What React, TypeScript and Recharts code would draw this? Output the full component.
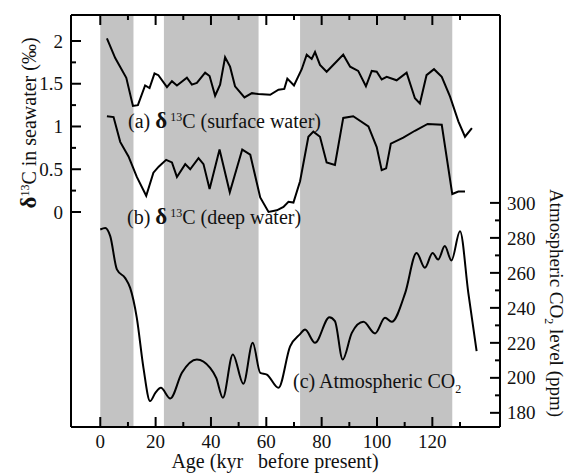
import React from 'react';
import { ComposedChart, Line, XAxis, YAxis, ReferenceArea } from 'recharts';

// (a) surface water δ13C
const surfaceAge = [2.4, 5.4, 9.4, 11.8, 13.6, 16.2, 17.8, 19.6, 21, 24.1, 25.9, 27.7, 31.3, 33.1, 34.9, 37.9, 39.5, 41.5, 43.3, 45.1, 46.9, 48.7, 52.1, 54.8, 57.1, 61.4, 64.4, 66.5, 67.6, 70, 72.8, 74.6, 76.4, 77.6, 79.4, 81.8, 85.4, 87.8, 90.3, 93.2, 96, 98.1, 99.9, 101.7, 103.5, 107.1, 110.7, 113.7, 115.5, 117.9, 120.6, 123.4, 126.4, 129.4, 131.8, 134.3];
const surfaceD13C = [2.03, 1.80, 1.57, 1.24, 1.25, 1.48, 1.45, 1.62, 1.60, 1.46, 1.53, 1.48, 1.57, 1.49, 1.51, 1.63, 1.59, 1.36, 1.49, 1.81, 1.70, 1.47, 1.34, 1.39, 1.38, 1.37, 1.43, 1.44, 1.56, 1.48, 1.67, 1.84, 1.79, 1.87, 1.72, 1.64, 1.76, 1.84, 1.70, 1.65, 1.47, 1.65, 1.64, 1.55, 1.58, 1.54, 1.63, 1.33, 1.27, 1.60, 1.67, 1.58, 1.35, 1.06, 0.88, 0.98];

// (b) deep water δ13C
const deepAge = [2.4, 4.8, 7.2, 10.2, 13.2, 16.6, 19.2, 21.1, 23.8, 25.9, 27.7, 30.7, 32.5, 35.5, 37.3, 39.5, 43.1, 46.8, 51.3, 54.2, 57.8, 60.8, 63.8, 66.2, 68, 69.8, 72.2, 75.2, 77, 79.4, 81.8, 84.8, 87.8, 91.4, 96.9, 99.9, 101.7, 103.3, 105, 109.5, 113.7, 118.3, 123.4, 127.2, 129.4, 131.8];
const deepD13C = [1.12, 1.11, 0.82, 0.65, 0.41, 0.19, 0.46, 0.53, 0.61, 0.58, 0.41, 0.56, 0.50, 0.63, 0.56, 0.27, 0.73, 0.23, 0.73, 0.67, 0.17, 0.00, 0.02, 0.06, 0.12, 0.11, 0.36, 0.88, 0.94, 0.88, 0.58, 0.55, 1.10, 1.12, 1.00, 0.76, 0.49, 0.51, 0.80, 0.87, 0.95, 1.03, 1.02, 0.21, 0.24, 0.24];

// (c) atmospheric CO2
const co2Age = [0, 1.8, 3.6, 6, 9, 10.8, 13.2, 15.6, 18, 19.9, 21.9, 25.3, 29.5, 34.9, 39.7, 41.9, 44.3, 47.9, 51.7, 55.1, 57.8, 60.2, 64.4, 68.6, 72.2, 74, 77.6, 82.8, 84.8, 87.6, 90.9, 95.1, 99.3, 102.9, 105.3, 110.2, 114.3, 117.3, 120.1, 122.1, 124.5, 126.9, 130, 133, 136];
const co2Ppm = [284.8, 285.7, 281, 262, 257, 251.4, 234.3, 205.7, 186.7, 191.4, 194.3, 188.2, 202.9, 210.5, 205.7, 200, 188.6, 213.4, 196.6, 220, 202.9, 201.9, 194.3, 218, 225, 227.6, 220, 234.7, 232.4, 210.5, 225.7, 232, 225.4, 234.3, 232, 248.6, 271.4, 262.9, 271.4, 267.6, 275.3, 267.1, 283.8, 248.6, 215.3];

// Shaded intervals (kyr)
const bandStart = [0, 23, 72.2];
const bandEnd = [12, 57.2, 127.2];

const xTicks = [0, 10, 20, 30, 40, 50, 60, 70, 80, 90, 100, 110, 120, 130];
const leftTicks = [0, 0.25, 0.5, 0.75, 1, 1.25, 1.5, 1.75, 2];
const rightTicks = [180, 190, 200, 210, 220, 230, 240, 250, 260, 270, 280, 290, 300];

const surfaceData = surfaceAge.map((x, i) => ({ x, d13c: surfaceD13C[i] }));
const deepData = deepAge.map((x, i) => ({ x, d13c: deepD13C[i] }));
const co2Data = co2Age.map((x, i) => ({ x, ppm: co2Ppm[i] }));

const W = 568;
const H = 476;
const FONT = '"Liberation Serif", "Times New Roman", serif';
const TICK_FS = 19;

const isMajorX = (v: number) => v % 20 === 0;
const isMajorLeft = (v: number) => Math.abs(v * 2 - Math.round(v * 2)) < 1e-6;
const isMajorRight = (v: number) => v % 20 === 0;

const BottomTick = (props: any) => {
  const { x, y, payload } = props;
  const major = isMajorX(payload.value);
  return (
    <g>
      <line x1={x} y1={y} x2={x} y2={y - (major ? 10 : 5)} stroke="#000" strokeWidth={2} />
      {major && (
        <text x={x} y={y + 21} textAnchor="middle" fontSize={TICK_FS} fontFamily={FONT} fill="#111">
          {payload.value}
        </text>
      )}
    </g>
  );
};

const TopTick = (props: any) => {
  const { x, y, payload } = props;
  const major = isMajorX(payload.value);
  return <line x1={x} y1={y} x2={x} y2={y + (major ? 10 : 5)} stroke="#000" strokeWidth={2} />;
};

const LeftTick = (props: any) => {
  const { x, y, payload } = props;
  const major = isMajorLeft(payload.value);
  return (
    <g>
      <line x1={x} y1={y} x2={x + (major ? 10 : 5)} y2={y} stroke="#000" strokeWidth={2} />
      {major && (
        <text x={x - 8} y={y} dy="0.35em" textAnchor="end" fontSize={TICK_FS} fontFamily={FONT} fill="#111">
          {String(payload.value)}
        </text>
      )}
    </g>
  );
};

const RightTick = (props: any) => {
  const { x, y, payload } = props;
  const major = isMajorRight(payload.value);
  return (
    <g>
      <line x1={x} y1={y} x2={x - (major ? 10 : 5)} y2={y} stroke="#000" strokeWidth={2} />
      {major && (
        <text x={x + 7} y={y} dy="0.35em" textAnchor="start" fontSize={TICK_FS} fontFamily={FONT} fill="#111">
          {payload.value}
        </text>
      )}
    </g>
  );
};

export default function App() {
  return (
    <div style={{ position: 'absolute', left: 0, top: 0, width: W, height: H, background: '#fff' }}>
      <ComposedChart
        width={W}
        height={H}
        margin={{ top: 14, right: 67, bottom: 48, left: 70 }}
      >
        <XAxis
          xAxisId="bottom"
          dataKey="x"
          type="number"
          orientation="bottom"
          domain={[-10.58, 144.45]}
          allowDataOverflow
          ticks={xTicks}
          interval={0}
          height={1}
          tickSize={0}
          tickMargin={0}
          tickLine={false}
          tick={<BottomTick />}
          axisLine={{ stroke: '#000', strokeWidth: 2 }}
        />
        <XAxis
          xAxisId="top"
          dataKey="x"
          type="number"
          orientation="top"
          domain={[-10.58, 144.45]}
          allowDataOverflow
          ticks={xTicks}
          interval={0}
          height={1}
          tickSize={0}
          tickMargin={0}
          tickLine={false}
          tick={<TopTick />}
          axisLine={{ stroke: '#000', strokeWidth: 2 }}
        />
        <YAxis
          yAxisId="d13c"
          orientation="left"
          type="number"
          domain={[-2.515, 2.304]}
          allowDataOverflow
          ticks={leftTicks}
          interval={0}
          width={1}
          tickSize={0}
          tickMargin={0}
          tickLine={false}
          tick={<LeftTick />}
          axisLine={{ stroke: '#000', strokeWidth: 2 }}
        />
        <YAxis
          yAxisId="co2"
          orientation="right"
          type="number"
          domain={[171.9, 407.4]}
          allowDataOverflow
          ticks={rightTicks}
          interval={0}
          width={1}
          tickSize={0}
          tickMargin={0}
          tickLine={false}
          tick={<RightTick />}
          axisLine={{ stroke: '#000', strokeWidth: 2 }}
        />
        {bandStart.map((s, i) => (
          <ReferenceArea
            key={i}
            xAxisId="bottom"
            yAxisId="d13c"
            x1={s}
            x2={bandEnd[i]}
            fill="#c3c3c3"
            fillOpacity={1}
            stroke="none"
            ifOverflow="hidden"
          />
        ))}
        <Line
          xAxisId="bottom"
          yAxisId="d13c"
          data={surfaceData}
          dataKey="d13c"
          type="linear"
          stroke="#000"
          strokeWidth={2}
          dot={false}
          isAnimationActive={false}
        />
        <Line
          xAxisId="bottom"
          yAxisId="d13c"
          data={deepData}
          dataKey="d13c"
          type="linear"
          stroke="#000"
          strokeWidth={2}
          dot={false}
          isAnimationActive={false}
        />
        <Line
          xAxisId="bottom"
          yAxisId="co2"
          data={co2Data}
          dataKey="ppm"
          type="monotone"
          stroke="#000"
          strokeWidth={2}
          dot={false}
          isAnimationActive={false}
        />
      </ComposedChart>
      <svg
        width={W}
        height={H}
        style={{ position: 'absolute', left: 0, top: 0, pointerEvents: 'none' }}
        fontFamily={FONT}
        fill="#111"
      >
        <text transform="translate(36,123) rotate(-90)" textAnchor="middle" fontSize={20}>
          <tspan fontWeight="bold" fontSize={23}>δ</tspan>
          <tspan fontSize={12} dy={-7}>13</tspan>
          <tspan dy={7}>C in seawater (‰)</tspan>
        </text>
        <text transform="translate(550,303) rotate(90)" textAnchor="middle" fontSize={19}>
          <tspan>Atmospheric CO</tspan>
          <tspan fontSize={12} dy={5}>2</tspan>
          <tspan dy={-5}> level (ppm)</tspan>
        </text>
        <text x={275} y={468} textAnchor="middle" fontSize={20} style={{ whiteSpace: 'pre' }}>
          Age (kyr   before present)
        </text>
        <text x={128} y={128} fontSize={20} style={{ whiteSpace: 'pre' }}>
          <tspan>(a) </tspan>
          <tspan fontWeight="bold" fontSize={23}>δ</tspan>
          <tspan fontSize={12} dy={-7}> 13</tspan>
          <tspan dy={7}>C (surface water)</tspan>
        </text>
        <text x={127} y={224} fontSize={20} style={{ whiteSpace: 'pre' }}>
          <tspan>(b) </tspan>
          <tspan fontWeight="bold" fontSize={23}>δ</tspan>
          <tspan fontSize={12} dy={-7}> 13</tspan>
          <tspan dy={7}>C (deep water)</tspan>
        </text>
        <text x={293} y={388} fontSize={20}>
          <tspan>(c) Atmospheric CO</tspan>
          <tspan fontSize={12} dy={5}>2</tspan>
        </text>
      </svg>
    </div>
  );
}
